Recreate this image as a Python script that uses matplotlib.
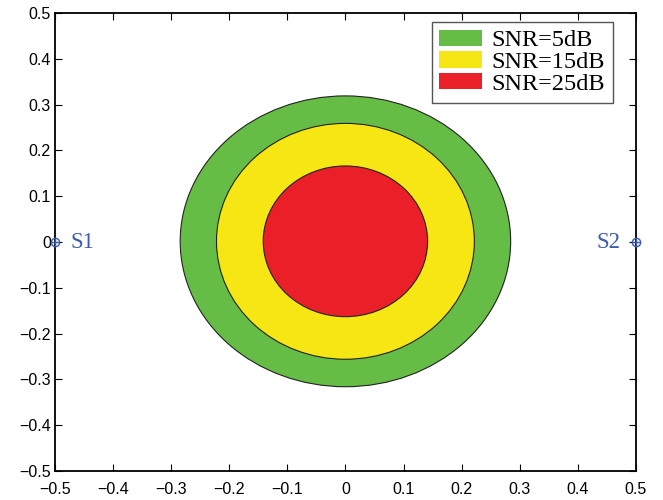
import matplotlib.pyplot as plt
from matplotlib.patches import Ellipse, Patch

# coverage regions (outer to inner), ellipse fits
labels = ['SNR=5dB', 'SNR=15dB', 'SNR=25dB']
colors = ['#66bd45', '#f5e614', '#ea1f27']
center_x = [0.0, 0.0, 0.0]
center_y = [0.0015, 0.0015, 0.0015]
widths = [0.569, 0.444, 0.283]
heights = [0.635, 0.515, 0.329]

# sensor positions
sensor_x = [-0.5, 0.5]
sensor_y = [0.0, 0.0]
sensor_names = ['S1', 'S2']
ticks = [-0.5, -0.4, -0.3, -0.2, -0.1, 0, 0.1, 0.2, 0.3, 0.4, 0.5]

plt.rcParams['font.family'] = ['Liberation Sans', 'DejaVu Sans']
fig = plt.figure(figsize=(6.63, 5), dpi=100)
ax = fig.add_axes([0.083, 0.058, 0.876, 0.916])

for cx, cy, w, h, c in zip(center_x, center_y, widths, heights, colors):
    ax.add_patch(Ellipse((cx, cy), w, h, facecolor=c, edgecolor='#222222', lw=0.8))

blue = '#3b5bab'
ax.plot(sensor_x, sensor_y, 'o', ms=6, mfc='none', mec=blue, mew=1, clip_on=False, zorder=5)
ax.plot(sensor_x, sensor_y, '+', ms=6, mec=blue, mew=1, clip_on=False, zorder=5)
ax.text(sensor_x[0] + 0.026, sensor_y[0], sensor_names[0], color=blue, fontsize=16.5,
        family='Liberation Serif', va='center', ha='left')
ax.text(sensor_x[1] - 0.026, sensor_y[1], sensor_names[1], color=blue, fontsize=16.5,
        family='Liberation Serif', va='center', ha='right')

ax.set_xlim(-0.5, 0.5)
ax.set_ylim(-0.5, 0.5)
ax.set_xticks(ticks)
ax.set_yticks(ticks)
ax.set_xticklabels([('%g' % t).replace('-', '\u2212') for t in ticks])
ax.set_yticklabels([('%g' % t).replace('-', '\u2212') for t in ticks])
ax.tick_params(direction='in', top=True, right=True, labelsize=11.5, length=5)
ax.tick_params(axis='x', pad=8)
ax.tick_params(axis='y', pad=3)
for s in ax.spines.values():
    s.set_linewidth(1.3)

handles = [Patch(facecolor=c, edgecolor='none') for c in colors]
leg = ax.legend(handles, labels, loc='upper right', bbox_to_anchor=(613 / 663, 478 / 500),
                bbox_transform=fig.transFigure, fancybox=False, framealpha=1,
                edgecolor='#555555', prop={'family': 'Liberation Serif', 'size': 17.5},
                borderaxespad=0, handlelength=1.75, handleheight=0.65,
                labelspacing=0.0, handletextpad=0.4, borderpad=0.32)
leg.get_frame().set_linewidth(1.0)

fig.savefig('out.png', dpi=100)
